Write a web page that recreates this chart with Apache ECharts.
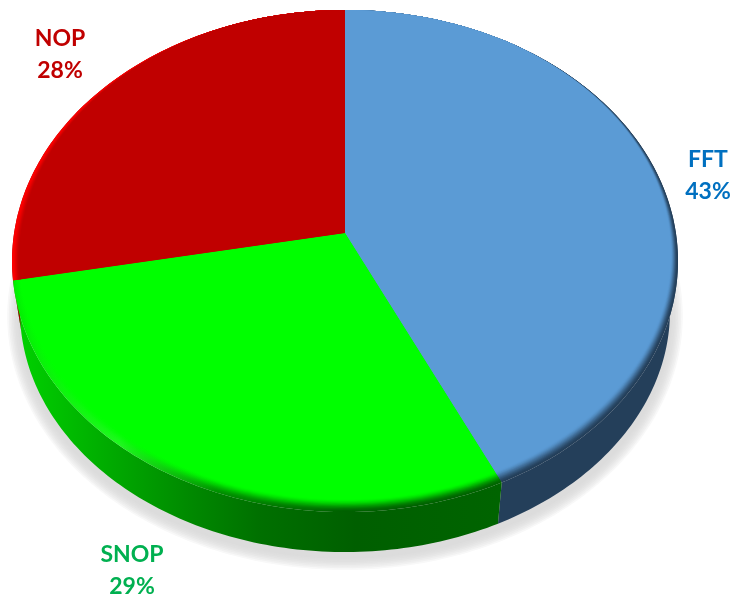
<!DOCTYPE html>
<html>
<head>
<meta charset="utf-8">
<style>html,body{margin:0;padding:0;background:#fff}#c{width:734px;height:597px}</style>
<script src="https://cdn.jsdelivr.net/npm/echarts@6/dist/echarts.min.js"></script>
</head>
<body>
<div id="c"></div>
<script>
const categories = ['FFT', 'SNOP', 'NOP'];
const values = [43, 29, 28];

// styling, one entry per slice
const faceColors = ['#5b9bd5', '#00ff00', '#c00000'];
const labelColors = ['#0070c0', '#00b050', '#c00000'];
const labelAt = [[708, 176], [132, 571], [60, 55]];

// view geometry: perspective of a tilted disc, and the smaller underside outline
const view = { apexX: 345, apexY: 233, a: -221.9, p: 0.1116, c: 330.9, topCy: 261,
               lowCy: 311, lowSx: 325 / 333, lowSy: 241 / 251 };
const RINGS = 12;
const SHADOW_RINGS = 9;

function project(u, v) {
  const w = 1 + view.p * v;
  return [view.apexX + view.c * u / w, (view.a * v + view.apexY) / w];
}
function lower(pt, grow, dy) {
  const g = grow || 0;
  return [view.apexX + (pt[0] - view.apexX) * (view.lowSx + g / 333),
          view.lowCy + (dy || 0) + (pt[1] - view.topCy) * (view.lowSy + g / 251)];
}
function rgb(h) { return [1, 3, 5].map(i => parseInt(h.substr(i, 2), 16)); }
function mix(h1, h2, t) {
  const a = rgb(h1), b = rgb(h2);
  return 'rgb(' + a.map((x, i) => Math.round(x + (b[i] - x) * t)).join(',') + ')';
}
function hgrad(x0, x1, stops, base, t) {
  return { type: 'linear', x: x0, y: 0, x2: x1, y2: 0, global: true,
    colorStops: stops.map(s => ({ offset: s[0], color: mix(s[1], base, t) })) };
}
const sideStops = [[0, '#00d000'], [0.35, '#008a00'], [0.5, '#007000'], [0.7, '#005f00'], [1, '#006400']];
const rimStops = [[0, '#00f000'], [0.22, '#20f820'], [0.42, '#009000'], [0.68, '#006000'], [1, '#006400']];

function sideFill(i) {
  return i === 0 ? '#243f5a' : i === 1 ? hgrad(20, 500, sideStops, '#000000', 0) : '#a00000';
}
function rimFill(i, t) {
  const e = t * t * (3 - 2 * t);
  return i === 0 ? mix('#243f5a', faceColors[0], e)
    : i === 1 ? hgrad(12, 500, rimStops, faceColors[1], e)
    : mix('#ff0000', faceColors[2], e);
}
function inset(i, u, v) {
  if (i === 2) return 0.022 * Math.pow(Math.abs(u), 3);
  const k = Math.min(1, Math.max(0, (0.85 - v) / 1.85));
  return 0.041 * k;
}
function sliceAngles(idx) {
  const sum = values.reduce((s, x) => s + x, 0);
  let acc = 0;
  for (let i = 0; i < idx; i++) acc += values[i];
  return [acc / sum * 2 * Math.PI, (acc + values[idx]) / sum * 2 * Math.PI];
}
function arc(a0, a1, rf) {
  const n = Math.max(2, Math.ceil((a1 - a0) / (Math.PI / 180)));
  const pts = [];
  for (let k = 0; k <= n; k++) {
    const a = a0 + (a1 - a0) * k / n, u = Math.sin(a), v = Math.cos(a), r = rf(u, v);
    pts.push(project(u * r, v * r));
  }
  return pts;
}

function renderItem(params, api) {
  const i = params.dataIndex;
  const [a0, a1] = sliceAngles(i);
  const children = [];
  if (i === 0) {
    const full = arc(0, 2 * Math.PI, () => 1);
    for (let s = SHADOW_RINGS; s >= 0; s--) {
      const t = s / SHADOW_RINGS;
      children.push({ type: 'polygon', z2: SHADOW_RINGS - s, silent: true,
        shape: { points: full.map(p => lower(p, 1.6 * s, 5)) },
        style: { fill: mix('#dcdcdc', '#ffffff', t * t) } });
    }
  }
  const topEdge = arc(a0, a1, () => 1);
  const lowEdge = topEdge.map(p => lower(p)).reverse();
  children.push({ type: 'polygon', z2: 20, shape: { points: topEdge.concat(lowEdge) }, style: { fill: sideFill(i) } });
  for (let r = 0; r <= RINGS; r++) {
    const t = r / RINGS;
    const pts = [project(0, 0)].concat(arc(a0, a1, (u, v) => 1 - t * inset(i, u, v)));
    children.push({ type: 'polygon', z2: 30 + r, shape: { points: pts },
      style: { fill: rimFill(i, t) } });
  }
  children.push({ type: 'text', z2: 60, x: labelAt[i][0], y: labelAt[i][1],
    style: { text: categories[i] + '\n' + api.value(0) + '%', fill: labelColors[i], align: 'center', verticalAlign: 'middle',
      fontFamily: 'Lato', fontWeight: 'bold', fontSize: 23, lineHeight: 32 } });
  return { type: 'group', children };
}

const chart = echarts.init(document.getElementById('c'), null, { renderer: 'canvas' });
chart.setOption({
  animation: false,
  backgroundColor: '#ffffff',
  series: [{
    type: 'custom',
    coordinateSystem: 'none',
    renderItem,
    data: categories.map((name, i) => ({ name, value: [values[i]] }))
  }]
});
</script>
</body>
</html>
